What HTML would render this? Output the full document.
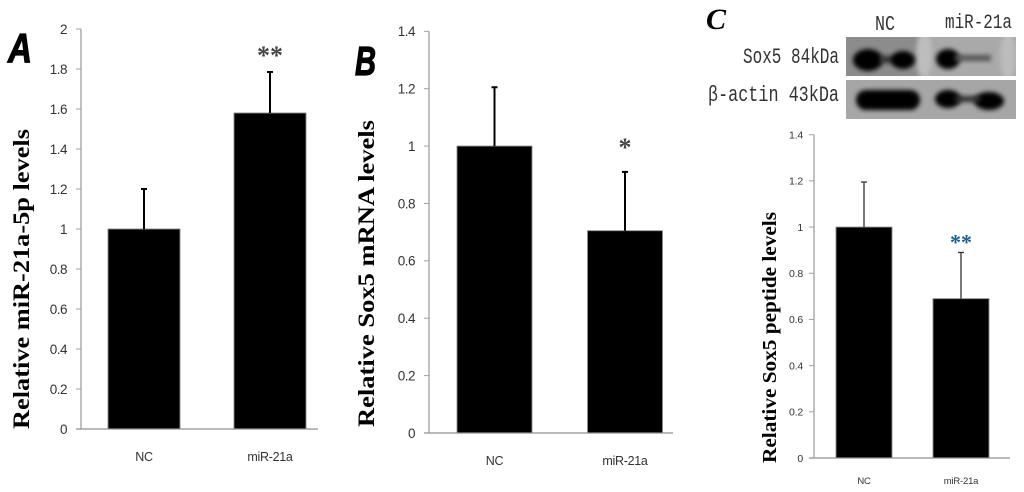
<!DOCTYPE html>
<html lang="en">
<head>
<meta charset="utf-8">
<title>Relative miR-21a-5p and Sox5 levels</title>
<style>
html,body{margin:0;padding:0;background:#fff;width:1024px;height:492px;overflow:hidden}
svg{display:block}
</style>
</head>
<body>
<svg id="figure" xmlns="http://www.w3.org/2000/svg" width="1024" height="492" viewBox="0 0 1024 492">
  <defs>
    <filter id="soft" x="-5%" y="-5%" width="110%" height="110%"><feGaussianBlur stdDeviation="0.35"/></filter>
    <filter id="band" x="-30%" y="-60%" width="160%" height="220%"><feGaussianBlur stdDeviation="2.5"/></filter>
    <clipPath id="clip-blot-top"><rect x="846" y="37" width="170" height="39"/></clipPath>
    <clipPath id="clip-blot-bottom"><rect x="846" y="80" width="170" height="39"/></clipPath>
  </defs>

  <text x="8" y="62" font-family="'Liberation Sans',sans-serif" font-weight="bold" font-style="italic" font-size="41" textLength="24" lengthAdjust="spacingAndGlyphs" fill="#000" stroke="#000" stroke-width="1.2">A</text>
  <text x="355" y="75" font-family="'Liberation Sans',sans-serif" font-weight="bold" font-style="italic" font-size="41" textLength="21" lengthAdjust="spacingAndGlyphs" fill="#000" stroke="#000" stroke-width="1.2">B</text>
  <text x="706" y="29" font-family="'Liberation Serif',serif" font-weight="bold" font-style="italic" font-size="30" fill="#000">C</text>

  <g id="blot">
    <text x="875" y="30" font-family="'Liberation Mono',monospace" font-size="21" textLength="20" lengthAdjust="spacingAndGlyphs" fill="#333">NC</text>
    <text x="945" y="28" font-family="'Liberation Mono',monospace" font-size="20" textLength="67" lengthAdjust="spacingAndGlyphs" fill="#333">miR-21a</text>
    <text x="743" y="63" font-family="'Liberation Mono',monospace" font-size="22" textLength="96" lengthAdjust="spacingAndGlyphs" fill="#333">Sox5 84kDa</text>
    <text x="708" y="101" font-family="'Liberation Mono',monospace" font-size="22" textLength="131" lengthAdjust="spacingAndGlyphs" fill="#333">β-actin 43kDa</text>

    <g clip-path="url(#clip-blot-top)">
      <rect x="846" y="37" width="170" height="39" fill="#a9a9a9"/>
      <rect x="846" y="37" width="80" height="39" fill="#8c8c8c"/>
      <ellipse cx="924" cy="55" rx="8" ry="24" fill="#bdbdbd" filter="url(#band)"/>
      <ellipse cx="1008" cy="56" rx="8" ry="24" fill="#bcbcbc" filter="url(#band)"/>
      <ellipse cx="868" cy="60" rx="15" ry="11" fill="#000" filter="url(#band)"/>
      <rect x="880" y="56" width="22" height="7" fill="#333" filter="url(#band)"/>
      <ellipse cx="903" cy="60" rx="12" ry="9" fill="#000" filter="url(#band)"/>
      <ellipse cx="948" cy="59" rx="12" ry="10" fill="#000" filter="url(#band)"/>
      <rect x="955" y="55" width="36" height="6" fill="#555" filter="url(#band)"/>
    </g>
    <g clip-path="url(#clip-blot-bottom)">
      <rect x="846" y="80" width="170" height="39" fill="#a6a6a6"/>
      <rect x="856" y="90" width="64" height="20" rx="10" fill="#000" filter="url(#band)"/>
      <ellipse cx="948" cy="99" rx="13" ry="9" fill="#000" filter="url(#band)"/>
      <ellipse cx="989" cy="101" rx="15" ry="9" fill="#000" filter="url(#band)"/>
      <rect x="955" y="96" width="25" height="6" fill="#333" filter="url(#band)"/>
    </g>
  </g>

  <g id="charts" filter="url(#soft)"></g>
</svg>

<script>
// Panel A
const categoriesA = ["NC", "miR-21a"];
const valuesA = [1.0, 1.58];
const errorsA = [0.2, 0.205];
const tickLabelsA = ["0", "0.2", "0.4", "0.6", "0.8", "1", "1.2", "1.4", "1.6", "1.8", "2"];

// Panel B
const categoriesB = ["NC", "miR-21a"];
const valuesB = [1.0, 0.705];
const errorsB = [0.205, 0.205];
const tickLabelsB = ["0", "0.2", "0.4", "0.6", "0.8", "1", "1.2", "1.4"];

// Panel C
const categoriesC = ["NC", "miR-21a"];
const valuesC = [1.0, 0.69];
const errorsC = [0.195, 0.2];
const tickLabelsC = ["0", "0.2", "0.4", "0.6", "0.8", "1", "1.2", "1.4"];

const NS = "http://www.w3.org/2000/svg";
const root = document.getElementById("charts");

function make(tag, attrs, parent, text) {
  const el = document.createElementNS(NS, tag);
  for (const k in attrs) el.setAttribute(k, attrs[k]);
  if (text !== undefined) el.textContent = text;
  parent.appendChild(el);
  return el;
}

function drawChart(categories, values, errors, tickLabels, layout) {
  const group = make("g", {}, root);
  
  

  const maxTick = parseFloat(tickLabels[tickLabels.length - 1]);
  const y = v => layout.bottom - (v / maxTick) * (layout.bottom - layout.top);
  const x = i => layout.firstCenter + layout.step * i;

  const yAxis = make("line", {x1: layout.left, x2: layout.left, y1: y(maxTick), y2: y(0), stroke: "#a0a0a0", "stroke-width": 1.3}, group);
  
  

  tickLabels.forEach(label => {
    const v = parseFloat(label);
    const tick = make("line", {x1: layout.left - 5, x2: layout.left, y1: y(v), y2: y(v), stroke: "#a0a0a0", "stroke-width": 1}, group);
    
    
    const text = make("text", {
      x: layout.left - layout.labelGap, y: y(v) + layout.tickFont * 0.36, "text-anchor": "end",
      "font-family": "'Liberation Sans',sans-serif", "font-size": layout.tickFont, fill: "#333",
      "letter-spacing": layout.tickSpacing
    }, group, label);
    
    
  });

  categories.forEach((cat, i) => {
    const w = layout.barWidth;
    const bar = make("rect", {x: x(i) - w / 2, y: y(values[i]), width: w, height: y(0) - y(values[i]), fill: "#000", stroke: "#8a8a8a", "stroke-width": 0.9}, group);
    
    

    const top = values[i] + errors[i];
    const stem = make("line", {x1: x(i), x2: x(i), y1: y(values[i]), y2: y(top), stroke: layout.errColor, "stroke-width": layout.errWidth}, group);
    
    
    const cap = make("line", {x1: x(i) - 3, x2: x(i) + 3, y1: y(top), y2: y(top), stroke: layout.errColor, "stroke-width": layout.errWidth}, group);
    
    

    const label = make("text", {
      x: x(i), y: layout.catY, "text-anchor": "middle",
      "font-family": "'Liberation Sans',sans-serif", "font-size": layout.catFont, fill: "#333",
      "letter-spacing": layout.catSpacing
    }, group, cat);
    
    
  });

  const xAxis = make("line", {x1: layout.left - 5, x2: layout.right, y1: y(0), y2: y(0), stroke: "#909090", "stroke-width": 1.3}, group);
  
  

  const sigTop = values[layout.sigIndex] + errors[layout.sigIndex];
  const sig = make("text", {
    x: x(layout.sigIndex), y: y(sigTop) - layout.sigGap, "text-anchor": "middle",
    "font-family": "'Liberation Serif',serif", "font-size": layout.sigFont, "font-weight": "bold", fill: layout.sigColor
  }, group, layout.sig);
  
  

  const cy = (layout.titleTop + layout.titleBottom) / 2;
  const title = make("text", {
    transform: "translate(" + layout.titleX + "," + cy + ") rotate(-90)", "text-anchor": "middle",
    "font-family": "'Liberation Serif',serif", "font-weight": "bold", "font-size": layout.titleFont, fill: "#000",
    textLength: layout.titleBottom - layout.titleTop, lengthAdjust: "spacingAndGlyphs"
  }, group, layout.title);
  
  
}

drawChart(categoriesA, valuesA, errorsA, tickLabelsA, {
  name: "panel-a-chart", left: 81, right: 318, top: 29, bottom: 429,
  firstCenter: 144, step: 126, barWidth: 72,
  tickFont: 13.5, tickSpacing: -0.5, labelGap: 14, catFont: 12.5, catSpacing: -0.3, catY: 461, errColor: "#000", errWidth: 2,
  sig: "**", sigIndex: 1, sigGap: 8, sigFont: 26, sigColor: "#444",
  title: "Relative miR-21a-5p levels", titleX: 29, titleTop: 129, titleBottom: 429, titleFont: 23
});

drawChart(categoriesB, valuesB, errorsB, tickLabelsB, {
  name: "panel-b-chart", left: 429, right: 673, top: 31.3, bottom: 433,
  firstCenter: 494.5, step: 130.5, barWidth: 75,
  tickFont: 13.5, tickSpacing: -0.5, labelGap: 14, catFont: 12.5, catSpacing: -0.3, catY: 465, errColor: "#000", errWidth: 2,
  sig: "*", sigIndex: 1, sigGap: 16, sigFont: 26, sigColor: "#444",
  title: "Relative Sox5 mRNA levels", titleX: 374, titleTop: 120, titleBottom: 427, titleFont: 23
});

drawChart(categoriesC, valuesC, errorsC, tickLabelsC, {
  name: "panel-c-chart", left: 814, right: 1010, top: 134.7, bottom: 458,
  firstCenter: 864, step: 97, barWidth: 56,
  tickFont: 10.5, tickSpacing: -0.2, labelGap: 11, catFont: 9.5, catSpacing: -0.2, catY: 484, errColor: "#333", errWidth: 1.3,
  sig: "**", sigIndex: 1, sigGap: 3, sigFont: 22, sigColor: "#1f5f8b",
  title: "Relative Sox5 peptide levels", titleX: 776, titleTop: 212, titleBottom: 463, titleFont: 20
});
</script>
</body>
</html>
